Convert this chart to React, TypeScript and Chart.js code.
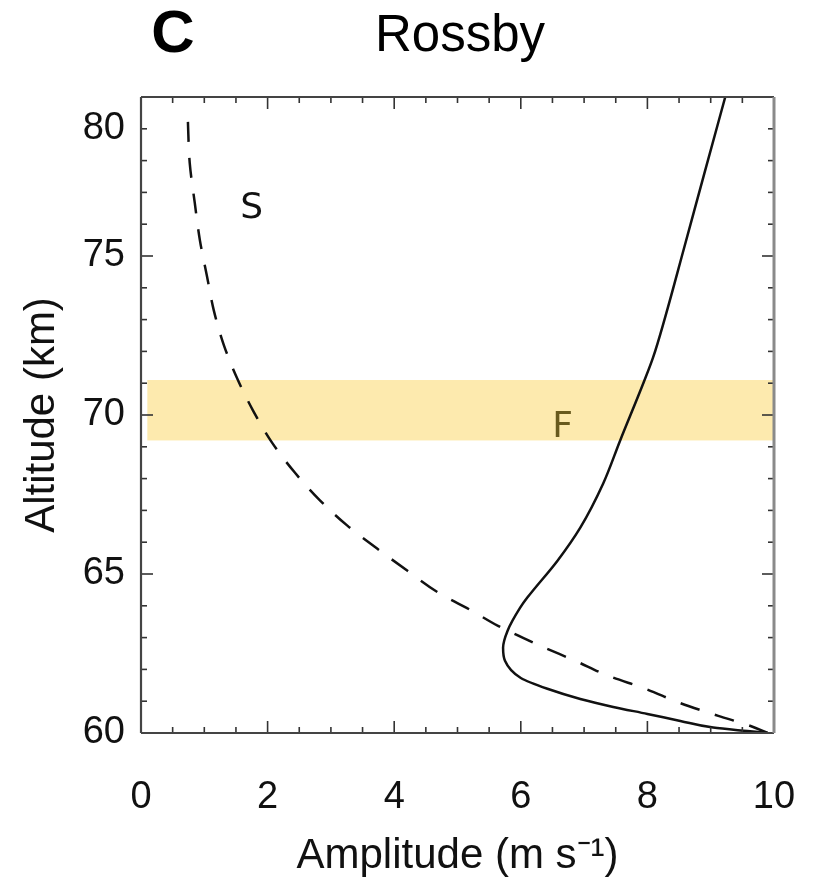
import { useEffect, useRef } from "react";
import { Chart, registerables } from "chart.js";

Chart.register(...registerables);

// ---- Data ----
const xTickValues = [0, 2, 4, 6, 8, 10];
const yTickValues = [60, 65, 70, 75, 79];
const yTickLabels = ["60", "65", "70", "75", "80"];

// Dashed curve "S"
const sAmplitude = [0.74, 0.77, 0.85, 0.93, 1.04, 1.15, 1.31, 1.52, 1.77, 2.07, 2.43, 2.83, 3.26, 3.73, 4.21, 4.70, 5.23, 5.64, 6.31, 6.86, 7.38, 7.97, 8.52, 9.12, 9.63, 9.90];
const sAltitude = [79.28, 77.92, 76.66, 75.50, 74.39, 73.29, 72.19, 71.15, 70.14, 69.13, 68.19, 67.31, 66.52, 65.80, 65.10, 64.41, 63.84, 63.37, 62.74, 62.27, 61.80, 61.39, 60.94, 60.54, 60.22, 60.0];

// Solid curve "F"
const fAmplitude = [9.90, 9.58, 9.04, 8.52, 8.00, 7.46, 6.94, 6.42, 6.00, 5.75, 5.72, 5.79, 5.99, 6.10, 6.58, 6.94, 7.30, 7.57, 7.94, 8.09, 8.28, 8.57, 8.90, 9.23];
const fAltitude = [60.0, 60.06, 60.17, 60.38, 60.6, 60.82, 61.07, 61.39, 61.73, 62.27, 62.68, 63.21, 63.94, 64.25, 65.42, 66.46, 67.84, 69.2, 71.02, 71.81, 73.07, 75.18, 77.6, 80.0];

// Highlighted altitude band
const bandAltitude = [69.2, 71.1];
const bandAmplitude = [0.1, 10];

// Labels inside the plot
const sLabel = { text: "S", x: 1.75, y: 76.5 };
const fLabel = { text: "F", x: 6.66, y: 69.6 };

const xRange = [0, 10];
const yRange = [60, 80];
const xMinorStep = 0.5;
const xMajorStep = 2;
const yMinorStep = 1;
const yMajorStep = 5;

const panelLetter = "C";
const titleText = "Rossby";
const xTitle = "Amplitude (m s\u207B\u00B9)";
const yTitle = "Altitude (km)";

const FONT = "'Liberation Sans', Arial, Helvetica, sans-serif";

const decorPlugin = {
  id: "decor",
  beforeDatasetsDraw(chart: any) {
    const { ctx, scales } = chart;
    const x = scales.x, y = scales.y;
    ctx.save();
    ctx.fillStyle = "rgb(253, 234, 174)";
    const x0 = x.getPixelForValue(bandAmplitude[0]);
    const x1 = x.getPixelForValue(bandAmplitude[1]);
    const y0 = y.getPixelForValue(bandAltitude[1]);
    const y1 = y.getPixelForValue(bandAltitude[0]);
    ctx.fillRect(x0, y0, x1 - x0, y1 - y0);
    ctx.restore();
  },
  afterDatasetsDraw(chart: any) {
    const { ctx, scales } = chart;
    const x = scales.x, y = scales.y;
    ctx.save();
    ctx.textAlign = "center";
    ctx.textBaseline = "middle";
    ctx.font = "36px 'DejaVu Sans', sans-serif";
    ctx.fillStyle = "#111";
    ctx.fillText(sLabel.text, x.getPixelForValue(sLabel.x), y.getPixelForValue(sLabel.y));
    ctx.fillStyle = "rgb(104, 90, 30)";
    ctx.fillText(fLabel.text, x.getPixelForValue(fLabel.x), y.getPixelForValue(fLabel.y));
    ctx.restore();
  },
  afterDraw(chart: any) {
    const { ctx, scales, chartArea } = chart;
    const x = scales.x, y = scales.y;
    const { left, right, top, bottom } = chartArea;
    ctx.save();
    ctx.strokeStyle = "#333";
    ctx.lineWidth = 1.6;
    const line = (ax: number, ay: number, bx: number, by: number) => {
      ctx.beginPath();
      ctx.moveTo(ax, ay);
      ctx.lineTo(bx, by);
      ctx.stroke();
    };
    const nx = Math.round((xRange[1] - xRange[0]) / xMinorStep);
    for (let i = 0; i <= nx; i++) {
      const v = xRange[0] + i * xMinorStep;
      const px = x.getPixelForValue(v);
      const major = Math.abs(v / xMajorStep - Math.round(v / xMajorStep)) < 1e-6;
      const len = major ? 12 : 6;
      line(px, bottom, px, bottom - len);
      line(px, top, px, top + len);
    }
    const ny = Math.round((yRange[1] - yRange[0]) / yMinorStep);
    for (let i = 0; i <= ny; i++) {
      const v = yRange[0] + i * yMinorStep;
      const py = y.getPixelForValue(v);
      const major = Math.abs(v / yMajorStep - Math.round(v / yMajorStep)) < 1e-6;
      const len = major ? 12 : 6;
      line(left, py, left + len, py);
      line(right, py, right - len, py);
    }
    // frame
    ctx.lineWidth = 2.2;
    ctx.strokeStyle = "#444";
    line(left, top, right, top);
    line(left, bottom, right, bottom);
    line(left, top, left, bottom);
    ctx.strokeStyle = "#8a8a8a";
    ctx.lineWidth = 3;
    line(right, top, right, bottom);

    // titles
    ctx.fillStyle = "#000";
    ctx.textBaseline = "middle";
    ctx.textAlign = "center";
    ctx.font = `51px ${FONT}`;
    ctx.fillText(titleText, 460, 37);
    ctx.font = `bold 60px ${FONT}`;
    ctx.fillText(panelLetter, 173, 35);
    ctx.restore();
  },
};

export default function App() {
  const canvasRef = useRef<HTMLCanvasElement | null>(null);

  useEffect(() => {
    if (!canvasRef.current) return;
    const sData = sAmplitude
      .map((v, i) => ({ x: v, y: sAltitude[i] }))
      .sort((a, b) => a.y - b.y);
    const fData = fAmplitude
      .map((v, i) => ({ x: v, y: fAltitude[i] }))
      .sort((a, b) => a.y - b.y);
    const chart = new Chart(canvasRef.current, {
      type: "scatter",
      data: {
        datasets: [
          {
            label: "S",
            data: sData,
            showLine: true,
            indexAxis: "y",
            borderColor: "#111",
            borderWidth: 2.5,
            borderDash: [20, 16],
            pointRadius: 0,
            cubicInterpolationMode: "monotone",
          },
          {
            label: "F",
            data: fData,
            showLine: true,
            indexAxis: "y",
            borderColor: "#111",
            borderWidth: 2.5,
            pointRadius: 0,
            cubicInterpolationMode: "monotone",
          },
        ],
      } as any,
      options: {
        animation: false,
        responsive: true,
        maintainAspectRatio: false,
        layout: { padding: { top: 97, right: 39, bottom: 0, left: 0 } },
        plugins: {
          legend: { display: false },
          tooltip: { enabled: false },
          title: { display: false },
        },
        scales: {
          x: {
            type: "linear",
            min: xRange[0],
            max: xRange[1],
            afterBuildTicks: (scale: any) => {
              scale.ticks = xTickValues.map((v) => ({ value: v }));
            },
            afterFit: (scale: any) => {
              scale.height = 149;
              scale.paddingLeft = 0;
              scale.paddingRight = 0;
            },
            grid: { display: false, drawTicks: false },
            border: { display: false },
            ticks: {
              color: "#111",
              padding: 42,
              maxRotation: 0,
              font: { size: 38, family: FONT },
              callback: (v: any) => String(v),
            },
            title: {
              display: true,
              text: xTitle,
              color: "#111",
              font: { size: 42, family: FONT },
              padding: { top: 0, bottom: 0 },
            },
          },
          y: {
            type: "linear",
            min: yRange[0],
            max: yRange[1],
            afterBuildTicks: (scale: any) => {
              scale.ticks = yTickValues.map((v) => ({ value: v }));
            },
            afterFit: (scale: any) => {
              scale.width = 141;
              scale.paddingTop = 0;
              scale.paddingBottom = 0;
            },
            grid: { display: false, drawTicks: false },
            border: { display: false },
            ticks: {
              color: "#111",
              padding: 16,
              font: { size: 38, family: FONT },
              callback: (v: any) => {
                const idx = yTickValues.indexOf(Number(v));
                return idx >= 0 ? yTickLabels[idx] : "";
              },
            },
            title: {
              display: true,
              text: yTitle,
              color: "#111",
              font: { size: 42, family: FONT },
              padding: { top: 17, bottom: 0 },
            },
          },
        },
      },
      plugins: [decorPlugin],
    });
    return () => chart.destroy();
  }, []);

  return (
    <div
      style={{
        position: "fixed",
        left: 0,
        top: 0,
        width: 813,
        height: 882,
        background: "#fff",
      }}
    >
      <canvas ref={canvasRef} />
    </div>
  );
}
